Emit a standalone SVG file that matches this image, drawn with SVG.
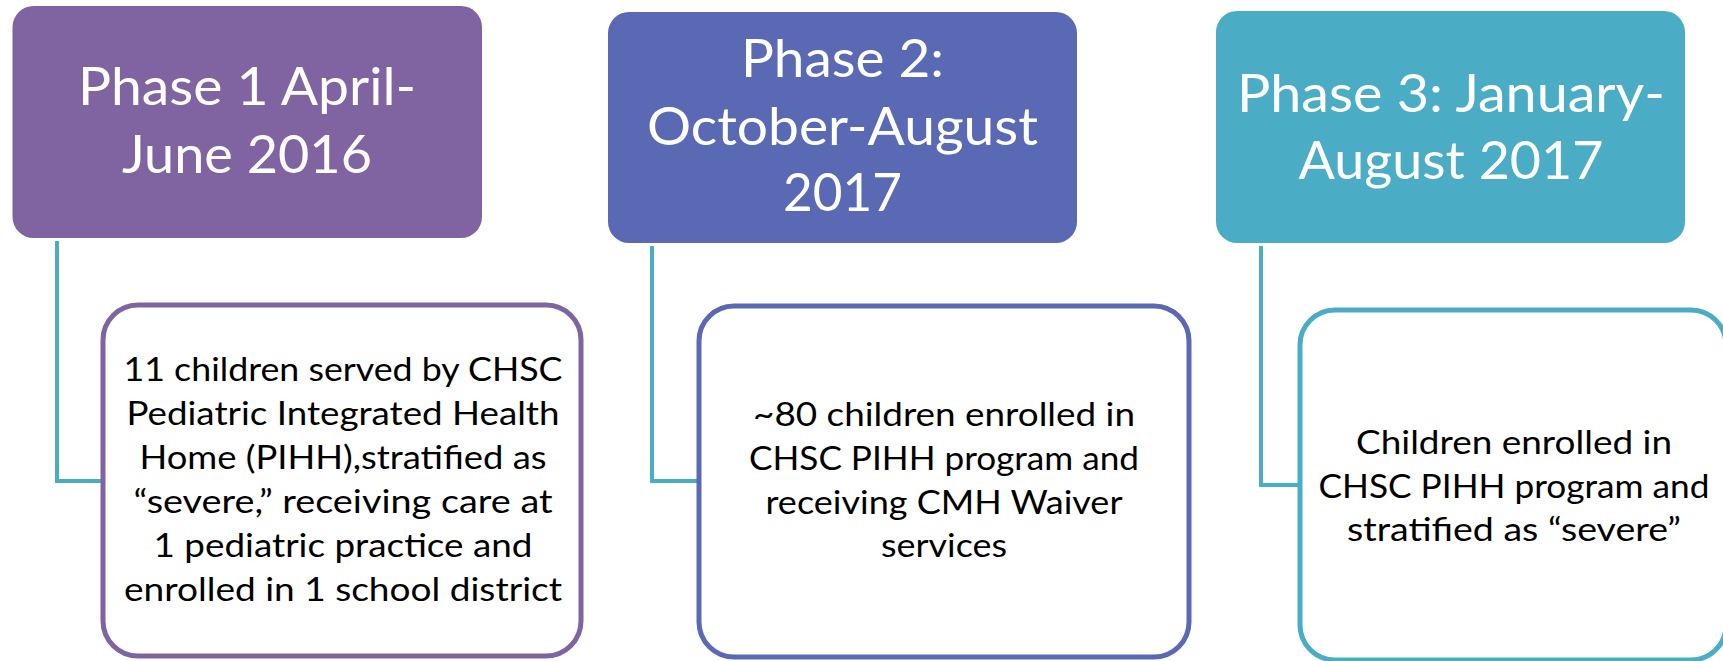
<svg xmlns="http://www.w3.org/2000/svg" width="1723" height="661" viewBox="0 0 1723 661">
<style>
.hdr{stroke:none}
.c1{fill:#8064A2}
.c2{fill:#5A69B4}
.c3{fill:#4BACC6}
.child{fill:#FFFFFF;stroke-width:5}
.s1{stroke:#8064A2}
.s2{stroke:#5A69B4}
.s3{stroke:#4BACC6}
.conn{fill:none;stroke:#4BACC6;stroke-width:4;stroke-linejoin:miter}
.ht{font-family:Lato,"Open Sans","Liberation Sans",sans-serif;font-size:52px;fill:#FFFFFF;text-anchor:middle}
.bt{font-family:Lato,"Open Sans","Liberation Sans",sans-serif;font-size:33px;fill:#000000;text-anchor:middle}
</style>
<rect width="1723" height="661" fill="#FFFFFF"/>
<g id="connectors">
<path class="conn" d="M57,241 V481 H103"/>
<path class="conn" d="M652,246 V481 H699"/>
<path class="conn" d="M1261,246 V485 H1300"/>
</g>
<g id="phase1">
<rect class="hdr c1" x="12.5" y="6" width="469.5" height="232" rx="21"/>
<text class="ht"><tspan x="247" y="105" textLength="338" lengthAdjust="spacingAndGlyphs">Phase 1 April-</tspan><tspan x="247" y="173" textLength="250" lengthAdjust="spacingAndGlyphs">June 2016</tspan></text>
</g>
<g id="phase1-detail">
<rect class="child s1" x="103" y="305" width="478" height="351" rx="35"/>
<text class="bt"><tspan x="343" y="381" textLength="439" lengthAdjust="spacingAndGlyphs">11 children served by CHSC</tspan><tspan x="343" y="425" textLength="433" lengthAdjust="spacingAndGlyphs">Pediatric Integrated Health</tspan><tspan x="343" y="469" textLength="407" lengthAdjust="spacingAndGlyphs">Home (PIHH),stratified as</tspan><tspan x="343" y="513" textLength="419" lengthAdjust="spacingAndGlyphs">“severe,” receiving care at</tspan><tspan x="343" y="557" textLength="379" lengthAdjust="spacingAndGlyphs">1 pediatric practice and</tspan><tspan x="343" y="601" textLength="438" lengthAdjust="spacingAndGlyphs">enrolled in 1 school district</tspan></text>
</g>
<g id="phase2">
<rect class="hdr c2" x="608" y="12" width="469" height="231" rx="21"/>
<text class="ht"><tspan x="842.5" y="77" textLength="203" lengthAdjust="spacingAndGlyphs">Phase 2:</tspan><tspan x="842.5" y="145" textLength="391" lengthAdjust="spacingAndGlyphs">October-August</tspan><tspan x="842.5" y="211" textLength="119" lengthAdjust="spacingAndGlyphs">2017</tspan></text>
</g>
<g id="phase2-detail">
<rect class="child s2" x="699" y="306" width="490" height="351" rx="35"/>
<text class="bt"><tspan x="944" y="426" textLength="382" lengthAdjust="spacingAndGlyphs">~80 children enrolled in</tspan><tspan x="944" y="470" textLength="390" lengthAdjust="spacingAndGlyphs">CHSC PIHH program and</tspan><tspan x="944" y="514" textLength="357" lengthAdjust="spacingAndGlyphs">receiving CMH Waiver</tspan><tspan x="944" y="557" textLength="126" lengthAdjust="spacingAndGlyphs">services</tspan></text>
</g>
<g id="phase3">
<rect class="hdr c3" x="1216" y="11" width="469" height="232" rx="21"/>
<text class="ht"><tspan x="1451" y="112" textLength="428" lengthAdjust="spacingAndGlyphs">Phase 3: January-</tspan><tspan x="1451" y="179" textLength="305" lengthAdjust="spacingAndGlyphs">August 2017</tspan></text>
</g>
<g id="phase3-detail">
<rect class="child s3" x="1300" y="310" width="426" height="350" rx="35"/>
<text class="bt"><tspan x="1514" y="454" textLength="316" lengthAdjust="spacingAndGlyphs">Children enrolled in</tspan><tspan x="1514" y="497.5" textLength="391" lengthAdjust="spacingAndGlyphs">CHSC PIHH program and</tspan><tspan x="1514" y="541" textLength="334" lengthAdjust="spacingAndGlyphs">stratified as “severe”</tspan></text>
</g>
</svg>
